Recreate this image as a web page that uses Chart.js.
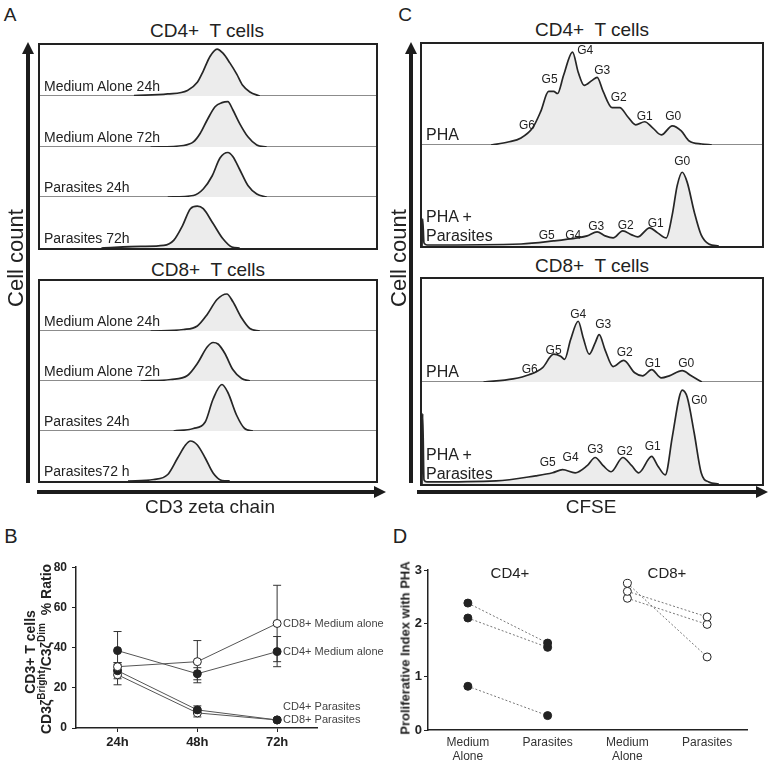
<!DOCTYPE html>
<html>
<head>
<meta charset="utf-8">
<script src="https://cdn.jsdelivr.net/npm/chart.js@4.4.1/dist/chart.umd.min.js"></script>
<style>
  body { margin: 0; background: #fff; }
  #fig { position: relative; width: 770px; height: 762px; overflow: hidden;
         font-family: 'Liberation Sans', Arial, sans-serif; color: #222; }
  .t { position: absolute; white-space: pre; line-height: 1; }
  .box { position: absolute; }
  .frame { position: absolute; left: 0; top: 0; right: 0; bottom: 0; border: 2px solid #222; box-sizing: border-box; }
  .row { position: absolute; left: 2px; }
  .row canvas { position: absolute; left: 0; top: 0; }
  .divline { position: absolute; left: 2px; height: 1px; background: #8c8c8c; }
  .rl { position: absolute; left: 4px; bottom: 1px; white-space: pre; color: #222; }
  .shaft { position: absolute; background: #1c1c1c; }
  .head { position: absolute; width: 0; height: 0; }
  canvas.abs { position: absolute; }
</style>
</head>
<body>
<div id="fig">
  <canvas id="cB" class="abs" width="390" height="207" style="left:0px;top:555px;"></canvas>
  <canvas id="cD" class="abs" width="380" height="207" style="left:390px;top:555px;"></canvas>
</div>
<script>
// ---- panel A: CD3 zeta histograms, [channel, count]
const a4Med24 = [[286,1],[389,4],[449,11],[479,27],[497,49],[518,78],[539,92],[557,84],[578,65],[599,43],[617,21],[639,8],[669,0]];
const a4Med72 = [[337,0],[437,3],[467,10],[488,27],[509,53],[533,79],[554,87],[572,89],[587,73],[608,46],[633,20],[660,4],[690,0]];
const a4Par24 = [[389,0],[467,3],[497,16],[524,42],[548,78],[572,89],[587,81],[608,55],[633,23],[660,6],[690,0]];
const a4Par72 = [[187,0],[307,3],[377,5],[407,15],[434,44],[458,77],[479,82],[497,77],[527,48],[557,18],[584,2],[608,0]];
const a8Med24 = [[337,0],[437,3],[479,10],[509,33],[539,63],[569,74],[587,59],[614,26],[639,5],[669,0]];
const a8Med72 = [[307,0],[398,3],[449,11],[479,35],[509,68],[527,77],[542,74],[563,55],[587,23],[614,5],[639,0]];
const a8Par24 = [[407,0],[467,5],[503,18],[527,64],[554,93],[572,77],[599,31],[623,5],[648,0]];
const a8Par72 = [[268,0],[346,3],[389,13],[419,46],[443,72],[458,80],[479,72],[503,46],[527,16],[554,1],[578,0]];

// ---- panel C: CFSE histograms
const c4Pha = [[208,0],[259,3],[298,7],[333,17],[357,33],[381,53],[396,53],[408,51],[426,69],[453,92],[470,72],[488,59],[512,64],[527,67],[545,53],[572,37],[595,37],[619,28],[643,20],[670,23],[694,17],[720,10],[753,19],[780,14],[804,4],[842,1],[872,0]];
const c4PhaPar = [[0,0],[2,27],[6,3],[15,1],[298,2],[396,5],[467,8],[497,10],[527,14],[551,10],[575,8],[604,15],[631,11],[649,9],[685,18],[709,13],[735,8],[753,31],[768,60],[783,73],[798,63],[819,34],[840,11],[863,2],[893,0]];
const c8Pha = [[185,0],[274,3],[322,7],[363,14],[396,27],[417,25],[429,22],[447,41],[470,59],[485,43],[503,27],[521,38],[533,46],[551,31],[575,15],[607,21],[640,9],[664,6],[691,12],[720,4],[744,6],[783,11],[810,6],[842,0]];
const c8PhaPar = [[0,0],[2,69],[6,4],[15,2],[223,3],[342,8],[393,11],[423,14],[461,11],[497,18],[521,26],[545,18],[569,12],[604,26],[631,18],[652,11],[691,27],[709,18],[732,9],[753,46],[774,85],[783,92],[798,85],[819,50],[840,11],[863,2],[893,0]];

// generation labels [text, channel, count]
const g4Pha = [['G6',316,19],['G5',384,65],['G4',491,93],['G3',542,74],['G2',592,47],['G1',670,28],['G0',756,28]];
const g4PhaPar = [['G5',375,10],['G4',455,10],['G3',524,19],['G2',613,20],['G1',703,22],['G0',783,83]];
const g8Pha = [['G6',324,12],['G5',396,30],['G4',470,65],['G3',545,56],['G2',610,28],['G1',694,18],['G0',795,18]];
const g8PhaPar = [['G5',378,21],['G4',447,26],['G3',521,34],['G2',610,32],['G1',694,37],['G0',834,82]];

// ---- panel B
const bHours = [24, 48, 72];
const cd4Med = [38.5, 27, 38];   const cd4MedErr = [9.5, 3, 7.5];
const cd8Med = [30.5, 33, 52];   const cd8MedErr = [2, 10.5, 19];
const cd4Par = [28.5, 9, 4];     const cd4ParErr = [4, 2, 0.5];
const cd8Par = [26.5, 7.5, 4];   const cd8ParErr = [5, 2, 0.5];
const bEndLabels = ['CD8+ Medium alone', 'CD4+ Medium alone', 'CD4+ Parasites', 'CD8+ Parasites'];
const bEndLabelY = [52, 38, 10.5, 4];

// ---- panel D
const dCats = [['Medium', 'Alone'], 'Parasites', ['Medium', 'Alone'], 'Parasites'];
const cd4Medium = [2.38, 2.10, 0.82];
const cd4Parasites = [1.63, 1.55, 0.27];
const cd8Medium = [2.75, 2.60, 2.47];
const cd8Parasites = [1.37, 2.12, 1.98];

Chart.defaults.font.family = "'Liberation Sans', Arial, sans-serif";
Chart.defaults.color = '#222';

const fig = document.getElementById('fig');

function txt(s, x, y, size, opts = {}) {
    const d = document.createElement('div');
    d.className = 't';
    d.innerHTML = s;
    d.style.left = x + 'px';
    d.style.top = y + 'px';
    d.style.fontSize = size + 'px';
    if (opts.bold) d.style.fontWeight = 'bold';
    if (opts.color) d.style.color = opts.color;
    d.style.transform = 'translate(-50%,-50%)' + (opts.rot ? ' rotate(-90deg)' : '');
    fig.appendChild(d);
}

function vArrow(x, top, bottom) {
    const s = document.createElement('div');
    s.className = 'shaft';
    Object.assign(s.style, { left: (x - 2) + 'px', top: (top + 10) + 'px', width: '4px', height: (bottom - top - 10) + 'px' });
    const h = document.createElement('div');
    h.className = 'head';
    Object.assign(h.style, { left: (x - 6) + 'px', top: top + 'px', borderLeft: '6px solid transparent', borderRight: '6px solid transparent', borderBottom: '12px solid #1c1c1c' });
    fig.appendChild(s); fig.appendChild(h);
}

function hArrow(y, left, right) {
    const s = document.createElement('div');
    s.className = 'shaft';
    Object.assign(s.style, { left: left + 'px', top: (y - 2) + 'px', width: (right - left - 10) + 'px', height: '4px' });
    const h = document.createElement('div');
    h.className = 'head';
    Object.assign(h.style, { left: (right - 12) + 'px', top: (y - 6) + 'px', borderTop: '6px solid transparent', borderBottom: '6px solid transparent', borderLeft: '12px solid #1c1c1c' });
    fig.appendChild(s); fig.appendChild(h);
}

// draws the G0..G6 tags next to the peaks
const genLabels = {
    id: 'genLabels',
    afterDatasetsDraw(chart, args, opts) {
        const { ctx, scales: { x, y } } = chart;
        ctx.save();
        ctx.font = "12px 'Liberation Sans', Arial, sans-serif";
        ctx.fillStyle = '#222';
        ctx.textAlign = 'center';
        ctx.textBaseline = 'middle';
        (opts.items || []).forEach(g => {
            ctx.fillText(g[0], x.getPixelForValue(g[1]), y.getPixelForValue(g[2]));
        });
        ctx.restore();
    }
};

function histChart(canvas, pts, gl) {
    return new Chart(canvas, {
        type: 'line',
        data: {
            datasets: [{
                data: pts.map(p => ({ x: p[0], y: p[1] })),
                borderColor: '#262626',
                borderWidth: 1.7,
                backgroundColor: '#ececec',
                fill: 'origin',
                pointRadius: 0,
                cubicInterpolationMode: 'monotone'
            }]
        },
        options: {
            responsive: false,
            animation: false,
            events: [],
            layout: { padding: 0 },
            plugins: { legend: { display: false }, tooltip: { enabled: false }, genLabels: { items: gl } },
            scales: {
                x: { type: 'linear', min: 0, max: 1023, display: false },
                y: { min: 0, max: 100, display: false }
            }
        },
        plugins: [genLabels]
    });
}

function makeBox(left, top, w, h, rows, labelSize) {
    const box = document.createElement('div');
    box.className = 'box';
    Object.assign(box.style, { left: left + 'px', top: top + 'px', width: w + 'px', height: h + 'px' });
    fig.appendChild(box);
    const inner = h - 4, n = rows.length;
    rows.forEach((r, i) => {
        const y0 = Math.round(2 + inner * i / n);
        const y1 = Math.round(2 + inner * (i + 1) / n);
        if (i < n - 1) {
            const dl = document.createElement('div');
            dl.className = 'divline';
            Object.assign(dl.style, { top: (y1 - 1) + 'px', width: (w - 4) + 'px' });
            box.appendChild(dl);
        }
        const row = document.createElement('div');
        row.className = 'row';
        Object.assign(row.style, { top: y0 + 'px', width: (w - 4) + 'px', height: (y1 - y0) + 'px' });
        box.appendChild(row);
        const cv = document.createElement('canvas');
        cv.width = w - 4;
        cv.height = y1 - y0;
        row.appendChild(cv);
        const lab = document.createElement('div');
        lab.className = 'rl';
        lab.style.fontSize = labelSize + 'px';
        lab.style.lineHeight = (labelSize + 3) + 'px';
        lab.textContent = r.label;
        row.appendChild(lab);
        histChart(cv, r.data, r.g || []);
    });
    const frame = document.createElement('div');
    frame.className = 'frame';
    box.appendChild(frame);
}

// ---------- panel A
txt('A', 10, 14, 19);
txt('CD4+  T cells', 207, 30, 19);
txt('CD8+  T cells', 208, 269, 19);
makeBox(38, 43, 340, 207, [
    { label: 'Medium Alone 24h', data: a4Med24 },
    { label: 'Medium Alone 72h', data: a4Med72 },
    { label: 'Parasites 24h', data: a4Par24 },
    { label: 'Parasites 72h', data: a4Par72 }
], 14);
makeBox(38, 279, 340, 204, [
    { label: 'Medium Alone 24h', data: a8Med24 },
    { label: 'Medium Alone 72h', data: a8Med72 },
    { label: 'Parasites 24h', data: a8Par24 },
    { label: 'Parasites72 h', data: a8Par72 }
], 14);
vArrow(28, 42, 483);
hArrow(492, 37, 386);
txt('Cell count', 16, 258, 22, { rot: true });
txt('CD3 zeta chain', 210, 506, 19);

// ---------- panel C
txt('C', 405, 14, 19);
txt('CD4+  T cells', 592, 29, 19);
txt('CD8+  T cells', 592, 265, 19);
makeBox(420, 42, 344, 206, [
    { label: 'PHA', data: c4Pha, g: g4Pha },
    { label: 'PHA +\nParasites', data: c4PhaPar, g: g4PhaPar }
], 16);
makeBox(420, 277, 344, 209, [
    { label: 'PHA', data: c8Pha, g: g8Pha },
    { label: 'PHA +\nParasites', data: c8PhaPar, g: g8PhaPar }
], 16);
vArrow(411, 42, 483);
hArrow(492, 417, 768);
txt('Cell count', 399, 258, 22, { rot: true });
txt('CFSE', 591, 506, 19);

// ---------- panel B
txt('B', 11, 536, 20);
txt('CD3+ T cells', 30, 652, 14, { bold: true, rot: true });
txt('CD3\u03b6<sup style="font-size:10px">Bright</sup>/C3\u03b6<sup style="font-size:10px">Dim</sup>  % Ratio', 45, 649, 14, { bold: true, rot: true });

const errBars = {
    id: 'errBars',
    beforeDatasetsDraw(chart) {
        const { ctx, scales: { x, y } } = chart;
        ctx.save();
        ctx.strokeStyle = '#333';
        ctx.lineWidth = 1;
        chart.data.datasets.forEach(ds => {
            ds.data.forEach((p, i) => {
                const e = ds.err[i];
                const px = x.getPixelForValue(p.x);
                const top = y.getPixelForValue(p.y + e);
                const bot = y.getPixelForValue(p.y - e);
                ctx.beginPath();
                ctx.moveTo(px, top); ctx.lineTo(px, bot);
                ctx.moveTo(px - 4, top); ctx.lineTo(px + 4, top);
                ctx.moveTo(px - 4, bot); ctx.lineTo(px + 4, bot);
                ctx.stroke();
            });
        });
        ctx.restore();
    }
};

const endLabels = {
    id: 'endLabels',
    afterDatasetsDraw(chart) {
        const { ctx, scales: { x, y } } = chart;
        ctx.save();
        ctx.font = "11px 'Liberation Sans', Arial, sans-serif";
        ctx.fillStyle = '#444';
        ctx.textAlign = 'left';
        ctx.textBaseline = 'middle';
        bEndLabels.forEach((s, i) => {
            ctx.fillText(s, x.getPixelForValue(bHours[2]) + 6, y.getPixelForValue(bEndLabelY[i]));
        });
        ctx.restore();
    }
};

function bSet(vals, err, filled) {
    return {
        data: bHours.map((h, i) => ({ x: h, y: vals[i] })),
        err: err,
        borderColor: '#555',
        borderWidth: 1,
        pointRadius: 4,
        pointBorderWidth: 1,
        pointBorderColor: '#222',
        pointBackgroundColor: filled ? '#222' : '#fff',
        tension: 0
    };
}

new Chart(document.getElementById('cB'), {
    type: 'line',
    data: {
        datasets: [
            bSet(cd4Med, cd4MedErr, true),
            bSet(cd8Med, cd8MedErr, false),
            bSet(cd4Par, cd4ParErr, true),
            bSet(cd8Par, cd8ParErr, false)
        ]
    },
    options: {
        responsive: false,
        animation: false,
        events: [],
        layout: { padding: { top: 11, right: 73, left: 0, bottom: 0 } },
        plugins: { legend: { display: false }, tooltip: { enabled: false } },
        scales: {
            x: {
                type: 'linear', min: 11.5, max: 84,
                afterBuildTicks: s => { s.ticks = bHours.map(v => ({ value: v })); },
                afterFit: s => { s.height = 34; },
                ticks: { callback: v => v + 'h', font: { size: 13, weight: 'bold' }, padding: 3, maxRotation: 0 },
                grid: { drawOnChartArea: false, tickLength: 4, color: '#222' },
                border: { color: '#222', width: 1.5 }
            },
            y: {
                min: 0, max: 80,
                afterFit: s => { s.width = 76; },
                ticks: { stepSize: 20, font: { size: 12, weight: 'bold' }, padding: 5 },
                grid: { drawOnChartArea: false, tickLength: 4, color: '#222' },
                border: { color: '#222', width: 1.5 }
            }
        }
    },
    plugins: [errBars, endLabels]
});

// ---------- panel D
txt('D', 400, 536, 20);
txt('Proliferative Index with PHA', 405, 648, 13, { bold: true, rot: true });
txt('CD4+', 510, 572, 15);
txt('CD8+', 667, 572, 15);

function dSet(a, b, xa, filled) {
    return {
        data: [{ x: xa, y: a }, { x: xa + 1, y: b }],
        borderColor: '#777',
        borderWidth: 1,
        borderDash: [2, 2],
        pointRadius: 4,
        pointBorderWidth: 1,
        pointBorderColor: '#222',
        pointBackgroundColor: filled ? '#222' : '#fff'
    };
}

const dSets = [];
cd4Medium.forEach((v, i) => dSets.push(dSet(v, cd4Parasites[i], 0, true)));
cd8Medium.forEach((v, i) => dSets.push(dSet(v, cd8Parasites[i], 2, false)));

new Chart(document.getElementById('cD'), {
    type: 'line',
    data: { datasets: dSets },
    options: {
        responsive: false,
        animation: false,
        events: [],
        layout: { padding: { top: 15, right: 23, left: 0, bottom: 0 } },
        plugins: { legend: { display: false }, tooltip: { enabled: false } },
        scales: {
            x: {
                type: 'linear', min: -0.5, max: 3.5,
                afterBuildTicks: s => { s.ticks = dCats.map((c, i) => ({ value: i })); },
                afterFit: s => { s.height = 32; },
                ticks: { callback: v => dCats[v], font: { size: 12 }, color: '#333', padding: 5, maxRotation: 0 },
                grid: { drawOnChartArea: false, drawTicks: false },
                border: { color: '#222', width: 1.5 }
            },
            y: {
                min: 0, max: 3,
                afterFit: s => { s.width = 38; },
                ticks: { stepSize: 1, font: { size: 13, weight: 'bold' }, padding: 2 },
                grid: { drawOnChartArea: false, tickLength: 4, color: '#222' },
                border: { color: '#222', width: 1.5 }
            }
        }
    }
});
</script>
</body>
</html>
